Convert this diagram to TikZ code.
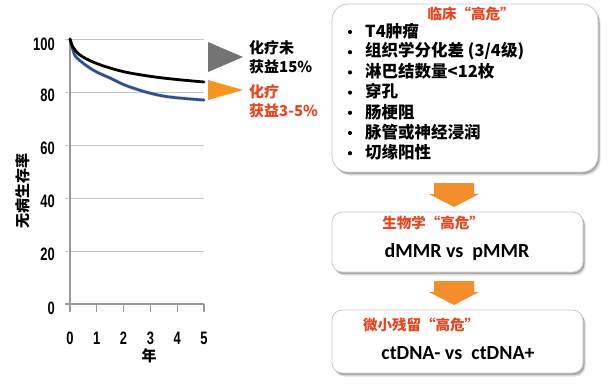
\documentclass[tikz,border=0pt]{standalone}
\usepackage{fontspec}
\setmainfont{Noto Sans CJK SC}
\newfontfamily\latf{Carlito}
\newfontfamily\arlf{Liberation Sans}
\usetikzlibrary{shadows}
\definecolor{gridc}{HTML}{C4C6CC}
\definecolor{axisc}{HTML}{9A9A9A}
\definecolor{bluec}{HTML}{2E4E8C}
\definecolor{oranget}{HTML}{F7941E}
\definecolor{redt}{HTML}{E8441E}
\definecolor{arrowc}{HTML}{F28F2C}
\definecolor{borderc}{HTML}{CACACA}
\tikzset{
  gridline/.style={draw=gridc, line width=0.9pt},
  axisline/.style={draw=axisc, line width=1.1pt},
  ticklbl/.style={inner sep=0pt, font=\arlf\bfseries\fontsize{18}{18}\selectfont},
  cjklbl/.style={inner sep=0pt, font=\bfseries\fontsize{15}{15}\selectfont},
  bultext/.style={inner sep=0pt, anchor=west, font=\bfseries\fontsize{16.5}{16.5}\selectfont},
  titletext/.style={inner sep=0pt, text=redt, font=\bfseries\fontsize{14.5}{14.5}\selectfont},
  mainline/.style={inner sep=0pt, font=\latf\bfseries\fontsize{20}{20}\selectfont},
  dotmark/.style={circle, fill=black, inner sep=0pt, minimum size=4.2pt},
  boxshape/.style={draw=borderc, line width=0.8pt, fill=white, inner sep=0pt,
    drop shadow={shadow xshift=2.5pt, shadow yshift=-3.5pt, fill=black, opacity=0.12},
    drop shadow={shadow xshift=1.5pt, shadow yshift=-2pt, fill=black, opacity=0.25}},
  fatarrow/.pic={
    \fill[arrowc] (-20,0) -- (20,0) -- (20,11) -- (25,11) -- (0,24) -- (-25,11) -- (-20,11) -- cycle;
  }
}
\begin{document}
\begin{tikzpicture}[x=1pt,y=-1pt]
\useasboundingbox (0,0) rectangle (608,384);
\fill[white] (0,0) rectangle (608,384);

% ---- chart grid and axes ----
\foreach \yy in {39,92,145,198,251} \draw[gridline] (65,\yy) -- (204,\yy);
\draw[axisline] (65,304) -- (204,304);
\draw[axisline] (70,39) -- (70,312);
\foreach \xx in {96.8,123.6,150.4,177.2,204} \draw[axisline] (\xx,304) -- (\xx,312);

% tick labels
\foreach \v/\xx in {0/70,1/96.8,2/123.6,3/150.4,4/177.2,5/204}
  \node[ticklbl] (xt\v) at (\xx,338) {\scalebox{0.72}[1]{\v}};
\foreach \v/\yy in {100/44,80/95,60/148,40/201,20/254,0/308}
  \node[ticklbl, anchor=east] (yt\v) at (55,\yy) {\scalebox{0.72}[1]{\v}};

\node[cjklbl] (xlab) at (149,356) {年};
\node[cjklbl, rotate=90] (ylab) at (23,191) {无病生存率};

% curves
\draw[bluec!70, line width=3.6pt, opacity=0.35, line cap=round] plot[smooth, tension=0.6] coordinates {(70,39) (73,50) (77,58) (93,70) (110,78) (130,87) (163,96) (204,100)};
\draw[bluec, line width=2.6pt, line cap=round] plot[smooth, tension=0.6] coordinates {(70,39) (73,50) (77,58) (93,70) (110,78) (130,87) (163,96) (204,100)};
\draw[black, line width=2.8pt, line cap=round] plot[smooth, tension=0.6] coordinates {(70,39) (73,47) (80,55) (93,62) (110,68) (130,73) (163,78) (204,82)};

% triangles and labels
\fill[black!55] (208,42) -- (243,57) -- (208,72) -- cycle;
\fill[oranget] (208,80) -- (243,90) -- (208,100) -- cycle;
\node[cjklbl, anchor=west] (la1) at (249,48) {化疗未};
\node[cjklbl, anchor=west] (la2) at (249,67) {获益15\%};
\node[cjklbl, anchor=west, text=redt] (lb1) at (249,92) {化疗};
\node[cjklbl, anchor=west, text=redt] (lb2) at (249,111) {获益3-5\%};

% ---- boxes ----
\node[boxshape, rounded corners=16pt, minimum width=266pt, minimum height=168pt] (b1) at (465,88) {};
\node[boxshape, rounded corners=10pt, minimum width=251pt, minimum height=60pt] (b2) at (457.5,242) {};
\node[boxshape, rounded corners=10pt, minimum width=251pt, minimum height=63pt] (b3) at (457.5,341.5) {};

% box 1 content
\node[titletext] (t1) at (471,14) {临床“高危”};
\foreach \i/\t in {0/{T4肿瘤},1/{组织学分化差 (3/4级)},2/{淋巴结数量<12枚},3/{穿孔},4/{肠梗阻},5/{脉管或神经浸润},6/{切缘阳性}} {
  \node[bultext] (r\i) at (365,{31+20.2*\i}) {\t};
  \node[dotmark] (d\i) at (350,{32+20.2*\i}) {};
}

% arrows
\pic at (454,183) {fatarrow};
\pic at (454,281) {fatarrow};

% box 2 content
\node[titletext] (t2) at (433,223) {生物学“高危”};
\node[mainline] (m2) at (457,252) {dMMR vs\ \ pMMR};

% box 3 content
\node[titletext] (t3) at (421,325) {微小残留“高危”};
\node[mainline] (m3) at (458,353) {ctDNA- vs\ \ ctDNA+};
\end{tikzpicture}
\end{document}
